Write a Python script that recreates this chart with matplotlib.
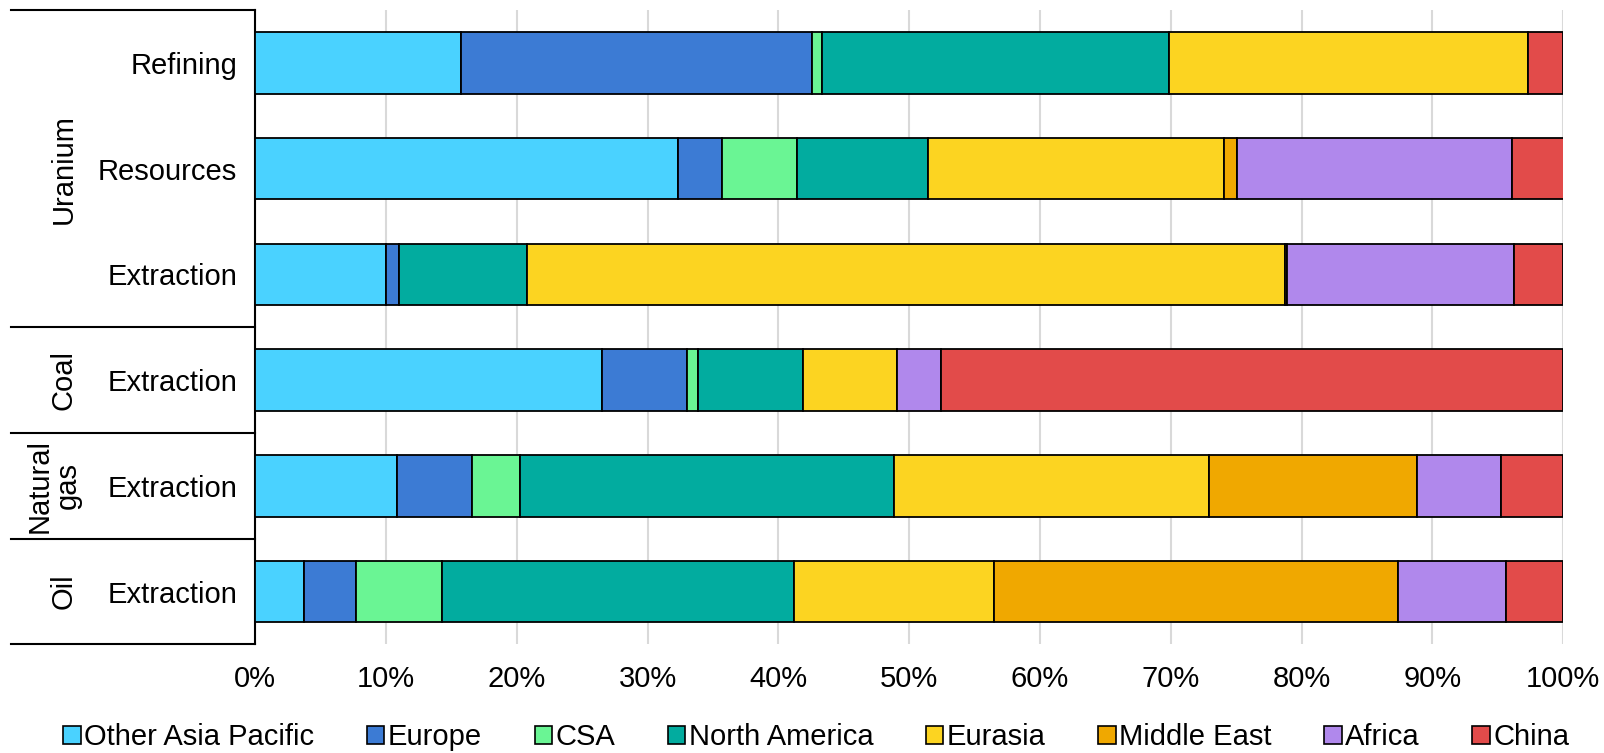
import numpy as np
import matplotlib
matplotlib.use("Agg")
import matplotlib.pyplot as plt
import matplotlib.transforms as mtransforms
from matplotlib.patches import Patch

plt.rcParams['font.family'] = ['Liberation Sans', 'DejaVu Sans']

rows = ['Refining', 'Resources', 'Extraction', 'Extraction', 'Extraction', 'Extraction']
groups = ['Uranium', 'Coal', 'Natural\ngas', 'Oil']
group_rows = [(0, 2), (3, 3), (4, 4), (5, 5)]

regions = ['Other Asia Pacific', 'Europe', 'CSA', 'North America',
           'Eurasia', 'Middle East', 'Africa', 'China']
colors = ['#4AD2FF', '#3C7BD4', '#6AF594', '#02AC9F',
          '#FCD421', '#F0A800', '#B088EC', '#E24B4A']

# share (%) per row, one list per region
other_asia = [15.7, 32.3, 10.0, 26.5, 10.8, 3.7]
europe = [26.9, 3.4, 1.0, 6.5, 5.8, 4.0]
csa = [0.7, 5.7, 0.0, 0.85, 3.65, 6.6]
north_america = [26.6, 10.0, 9.8, 8.0, 28.6, 26.9]
eurasia = [27.4, 22.7, 57.9, 7.2, 24.1, 15.25]
middle_east = [0.0, 1.0, 0.15, 0.0, 15.9, 30.95]
africa = [0.0, 21.0, 17.4, 3.35, 6.4, 8.2]
china = [2.7, 4.0, 3.75, 47.6, 4.75, 4.4]

series = [other_asia, europe, csa, north_america, eurasia, middle_east, africa, china]

fig = plt.figure(figsize=(16.04, 7.53), dpi=100)
ax = fig.add_axes([0.1592, 0.1441, 0.8153, 0.8426])

y = np.arange(len(rows))
left = np.zeros(len(rows))
for vals, col in zip(series, colors):
    vals = np.array(vals)
    ax.barh(y, vals, left=left, height=0.58, color=col,
            edgecolor='black', linewidth=1.3, zorder=3)
    left += vals

ax.set_xlim(0, 100)
ax.set_ylim(5.5, -0.5)
ax.set_xticks(np.arange(0, 101, 10))
ax.set_xticklabels([f'{v}%' for v in range(0, 101, 10)])
ax.set_yticks(y)
ax.set_yticklabels(rows)
ax.tick_params(axis='x', length=0, pad=15, labelsize=21)
ax.tick_params(axis='y', length=0, pad=13, labelsize=21)
ax.grid(axis='x', color='#d9d9d9', linewidth=1.5, zorder=0)
for s in ['top', 'right', 'bottom']:
    ax.spines[s].set_visible(False)
ax.spines['left'].set_linewidth(1.5)

# group dividers and labels on the left
trans = mtransforms.blended_transform_factory(fig.transFigure, ax.transData)
x0 = 11 / 1604
x1 = ax.get_position().x0
for yb in [-0.5, 2.5, 3.5, 4.5, 5.5]:
    ax.plot([x0, x1], [yb, yb], color='black', linewidth=1.5,
            transform=trans, clip_on=False)

group_x = [63.5 / 1604, 63.5 / 1604, 54 / 1604, 63.5 / 1604]
for name, (a, b), gx in zip(groups, group_rows, group_x):
    ax.text(gx, (a + b) / 2, name, rotation=90, ha='center', va='center',
            fontsize=21, linespacing=1.0, transform=trans)

handles = [Patch(facecolor=c, edgecolor='black', linewidth=1.2) for c in colors]
fig.legend(handles, regions, loc='center', bbox_to_anchor=(0.509, 0.021),
           ncol=8, frameon=False, fontsize=21, handlelength=0.6,
           handleheight=0.6, handletextpad=0.12, columnspacing=1.8,
           borderaxespad=0, borderpad=0)

fig.savefig('out.png', dpi=100)
